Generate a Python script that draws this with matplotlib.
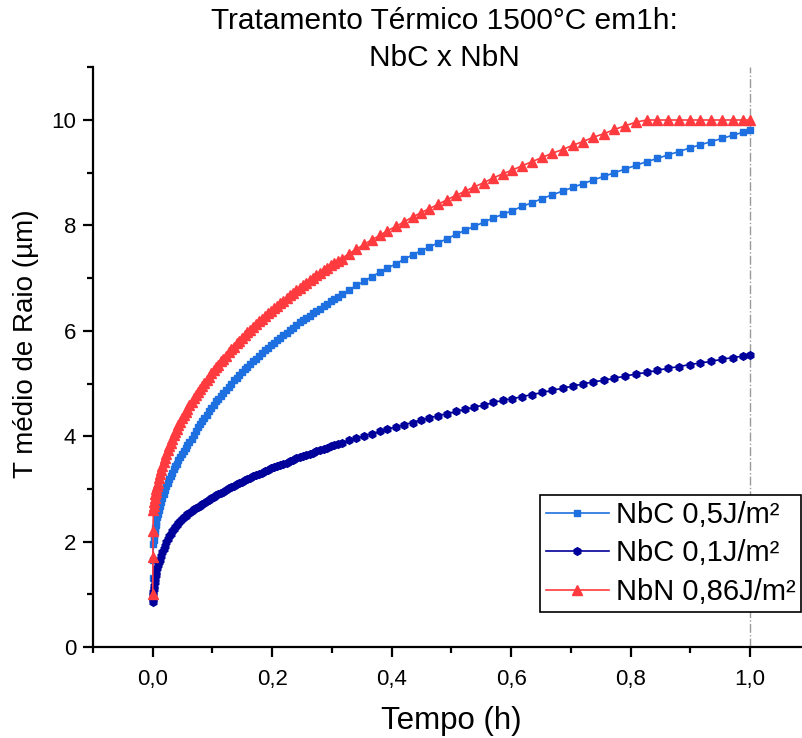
import matplotlib
matplotlib.use("Agg")
import matplotlib.pyplot as plt
from matplotlib.ticker import MultipleLocator, FuncFormatter

plt.rcParams['font.family'] = ['Liberation Sans', 'DejaVu Sans']

# ---- data ----
tempo = [0, 0.0002, 0.0005, 0.001, 0.0015, 0.002, 0.003, 0.004, 0.005, 0.006,
         0.0075, 0.009, 0.0105, 0.012, 0.014, 0.016, 0.018, 0.02, 0.0225, 0.025,
         0.0275, 0.03, 0.0325, 0.035, 0.0375, 0.04, 0.043, 0.046, 0.049, 0.052,
         0.055, 0.058, 0.0615, 0.065, 0.0685, 0.072, 0.0755, 0.079, 0.0825, 0.086,
         0.09, 0.094, 0.098, 0.102, 0.106, 0.11, 0.114, 0.118, 0.1225, 0.127,
         0.1315, 0.136, 0.1405, 0.145, 0.1495, 0.154, 0.1585, 0.163, 0.168, 0.173,
         0.178, 0.183, 0.188, 0.193, 0.198, 0.203, 0.208, 0.213, 0.2185, 0.224,
         0.2295, 0.235, 0.2405, 0.246, 0.2515, 0.257, 0.2625, 0.268, 0.274, 0.28,
         0.286, 0.292, 0.298, 0.304, 0.31, 0.316,
         0.328, 0.341, 0.354, 0.367,
         0.38, 0.393, 0.407, 0.421, 0.435, 0.449, 0.463, 0.478, 0.493, 0.508,
         0.523, 0.538, 0.554, 0.57, 0.586, 0.602, 0.618, 0.635, 0.652, 0.669,
         0.686, 0.703, 0.72, 0.737, 0.755, 0.773, 0.791, 0.809, 0.827, 0.845,
         0.863, 0.881, 0.899, 0.917, 0.935, 0.953, 0.971, 0.989, 1.0]

nbc_05 = [0.90, 1.30, 1.65, 1.95, 2.03, 2.10, 2.18, 2.25, 2.32, 2.38,
          2.46, 2.53, 2.60, 2.67, 2.75, 2.83, 2.90, 2.97, 3.05, 3.12,
          3.19, 3.25, 3.31, 3.37, 3.43, 3.48, 3.54, 3.60, 3.66, 3.72,
          3.78, 3.83, 3.89, 3.95, 4.03, 4.10, 4.17, 4.23, 4.29, 4.35,
          4.41, 4.47, 4.54, 4.60, 4.66, 4.71, 4.77, 4.82, 4.88, 4.94,
          5.00, 5.06, 5.11, 5.16, 5.22, 5.27, 5.32, 5.37, 5.42, 5.47,
          5.53, 5.58, 5.63, 5.68, 5.73, 5.77, 5.82, 5.87, 5.92, 5.96,
          6.01, 6.06, 6.11, 6.16, 6.20, 6.24, 6.29, 6.33, 6.38, 6.42,
          6.47, 6.51, 6.56, 6.60, 6.65, 6.69,
          6.77, 6.86, 6.94, 7.03,
          7.11, 7.19, 7.27, 7.36, 7.44, 7.52, 7.59, 7.67, 7.75, 7.83,
          7.91, 7.98, 8.06, 8.14, 8.21, 8.28, 8.36, 8.43, 8.51, 8.58,
          8.65, 8.72, 8.79, 8.86, 8.93, 9.00, 9.07, 9.14, 9.21, 9.27,
          9.34, 9.40, 9.47, 9.53, 9.59, 9.65, 9.71, 9.77, 9.81]

nbc_01 = [0.86, 0.92, 0.98, 1.05, 1.10, 1.15, 1.23, 1.30, 1.36, 1.42,
          1.49, 1.55, 1.61, 1.66, 1.73, 1.80, 1.86, 1.92, 1.99, 2.05,
          2.10, 2.15, 2.20, 2.24, 2.28, 2.32, 2.36, 2.40, 2.43, 2.46,
          2.49, 2.52, 2.55, 2.58, 2.61, 2.63, 2.66, 2.68, 2.71, 2.74,
          2.77, 2.79, 2.82, 2.85, 2.88, 2.90, 2.93, 2.95, 2.98, 3.01,
          3.04, 3.06, 3.09, 3.11, 3.14, 3.16, 3.19, 3.21, 3.24, 3.26,
          3.29, 3.31, 3.34, 3.36, 3.39, 3.41, 3.44, 3.46, 3.48, 3.50,
          3.53, 3.55, 3.58, 3.60, 3.63, 3.65, 3.67, 3.69, 3.72, 3.74,
          3.76, 3.78, 3.81, 3.83, 3.85, 3.87,
          3.92, 3.96, 4.01, 4.05,
          4.09, 4.13, 4.18, 4.22, 4.26, 4.31, 4.35, 4.39, 4.43, 4.47,
          4.51, 4.55, 4.59, 4.64, 4.68, 4.71, 4.75, 4.79, 4.83, 4.87,
          4.91, 4.95, 4.99, 5.03, 5.06, 5.10, 5.14, 5.18, 5.21, 5.25,
          5.29, 5.32, 5.36, 5.39, 5.42, 5.46, 5.49, 5.52, 5.54]

nbn_086 = [1.00, 1.70, 2.20, 2.60, 2.68, 2.75, 2.83, 2.90, 2.95, 3.00,
           3.06, 3.12, 3.20, 3.28, 3.36, 3.44, 3.51, 3.58, 3.66, 3.74,
           3.81, 3.88, 3.95, 4.02, 4.08, 4.14, 4.21, 4.27, 4.34, 4.40,
           4.46, 4.52, 4.59, 4.65, 4.72, 4.78, 4.84, 4.89, 4.95, 5.01,
           5.07, 5.13, 5.19, 5.25, 5.31, 5.36, 5.42, 5.47, 5.53, 5.59,
           5.65, 5.70, 5.76, 5.81, 5.87, 5.92, 5.97, 6.01, 6.07, 6.12,
           6.18, 6.23, 6.28, 6.33, 6.38, 6.43, 6.48, 6.52, 6.57, 6.62,
           6.67, 6.72, 6.77, 6.82, 6.87, 6.91, 6.96, 7.00, 7.05, 7.10,
           7.15, 7.19, 7.24, 7.28, 7.33, 7.37,
           7.46, 7.55, 7.64, 7.73,
           7.81, 7.90, 7.98, 8.07, 8.16, 8.24, 8.32, 8.40, 8.49, 8.57,
           8.65, 8.73, 8.81, 8.90, 8.98, 9.05, 9.13, 9.21, 9.29, 9.37,
           9.44, 9.52, 9.59, 9.67, 9.74, 9.82, 9.89, 9.96, 10.0, 10.0,
           10.0, 10.0, 10.0, 10.0, 10.0, 10.0, 10.0, 10.0, 10.0]

labels = ["NbC 0,5J/m²", "NbC 0,1J/m²", "NbN 0,86J/m²"]
title = "Tratamento Térmico 1500°C em1h:\nNbC x NbN"
xlabel = "Tempo (h)"
ylabel = "T médio de Raio (µm)"

# ---- figure ----
fig = plt.figure(figsize=(8.02, 7.38), dpi=100)
ax = fig.add_axes([0.116, 0.1233, 0.8937, 0.7855])

ax.plot(tempo, nbc_05, color='#1E6FE0', lw=1.2, marker='s', ms=5,
        mec='#1E6FE0', label=labels[0])
ax.plot(tempo, nbc_01, color='#00009A', lw=1.2, marker='h', ms=5.5,
        mec='#00009A', label=labels[1])
ax.plot(tempo, nbn_086, color='#FF3B3F', lw=1.2, marker='^', ms=7,
        mec='#FF3B3F', label=labels[2])

ax.axvline(1.0, color='#9A9A9A', lw=1.0, ls='-.', zorder=0)

ax.set_xlim(-0.1, 1.1)
ax.set_ylim(0, 11)
ax.spines['top'].set_visible(False)
ax.spines['right'].set_visible(False)
for s in ('left', 'bottom'):
    ax.spines[s].set_linewidth(1.6)

ax.xaxis.set_major_locator(MultipleLocator(0.2))
ax.xaxis.set_minor_locator(MultipleLocator(0.1))
ax.yaxis.set_major_locator(MultipleLocator(2))
ax.yaxis.set_minor_locator(MultipleLocator(1))
ax.xaxis.set_major_formatter(FuncFormatter(lambda v, p: f"{v:.1f}".replace('.', ',').replace('-0,0', '0,0')))
ax.yaxis.set_major_formatter(FuncFormatter(lambda v, p: f"{v:.0f}"))
ax.tick_params(which='major', direction='out', length=7, width=1.6, labelsize=16, pad=5, colors='black')
ax.tick_params(which='minor', direction='out', length=4, width=1.6)
ax.tick_params(axis='x', which='major', pad=9)

ax.set_xlabel(xlabel, fontsize=22.5, labelpad=11)
ax.set_ylabel(ylabel, fontsize=20)
ax.yaxis.set_label_coords(-0.0753, 0.524)
ax.set_title(title, fontsize=21.5, y=1.0, pad=0.8, linespacing=1.42, x=0.49)

leg = ax.legend(loc='upper left', bbox_to_anchor=(540 / 802, 1 - 495 / 738),
                bbox_transform=fig.transFigure, fontsize=21, numpoints=1,
                handlelength=2.15, handletextpad=0.25, borderpad=0.2,
                labelspacing=0.36, fancybox=False, framealpha=1,
                edgecolor='black', borderaxespad=0)
leg.get_frame().set_linewidth(1.2)

fig.savefig("out.png", dpi=100)
